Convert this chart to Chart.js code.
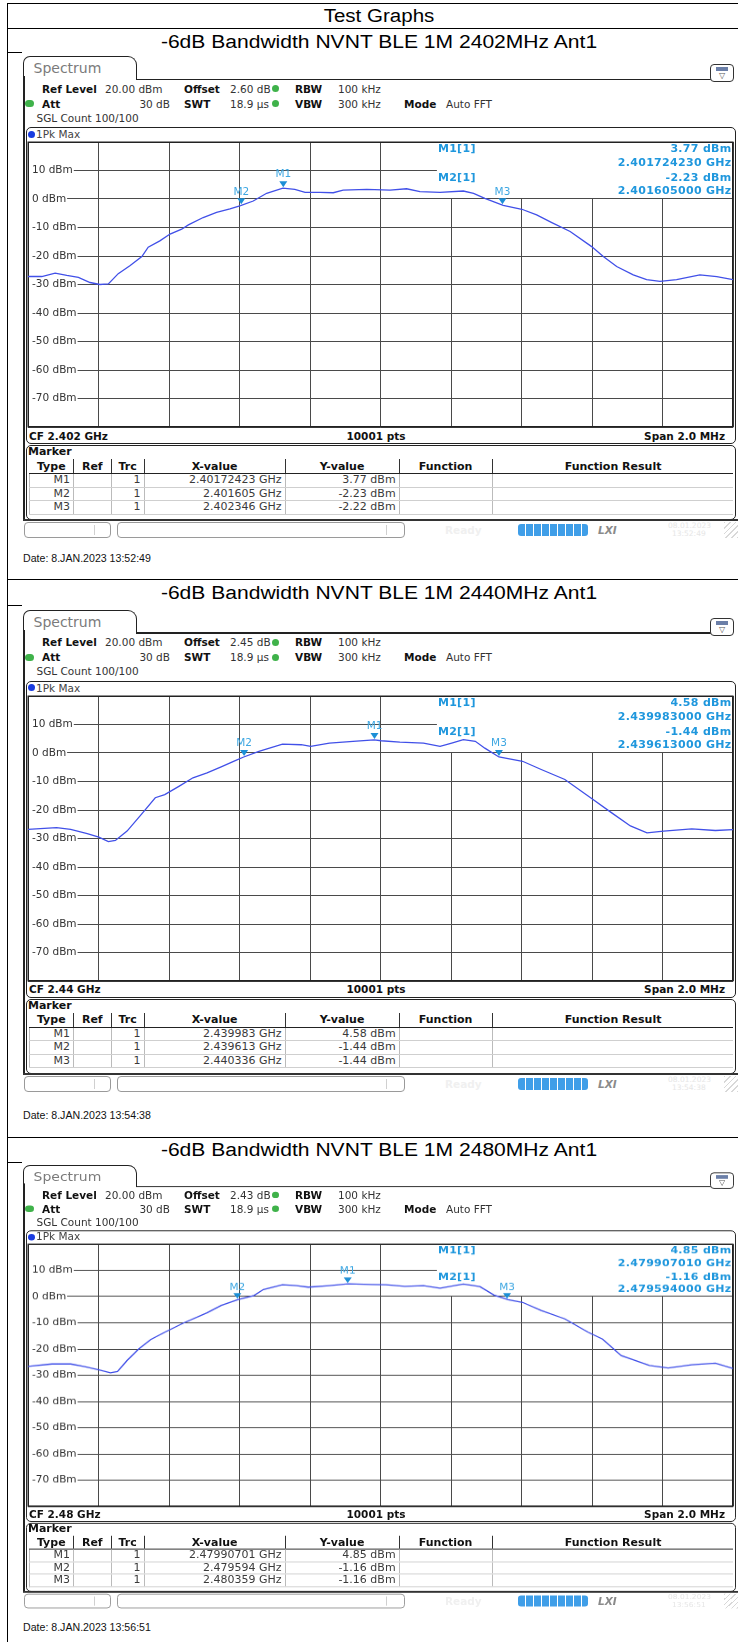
<!DOCTYPE html>
<html>
<head>
<meta charset="utf-8">
<script src="https://cdn.jsdelivr.net/npm/chart.js@4.4.1/dist/chart.umd.min.js"></script>
<style>
body { margin: 0; background: #fff; overflow: hidden; }
#page { position: relative; width: 738px; height: 1642px; overflow: hidden; background: #fff; font-family: "DejaVu Sans", sans-serif; }
.abs { position: absolute; }
.t { position: absolute; white-space: nowrap; line-height: 12px; font-size: 10.5px; color: #333; }
.b { font-weight: bold; color: #111; }
.word { position: absolute; white-space: nowrap; font-family: "Liberation Sans", Arial, sans-serif; color: #000; }
.shot { position: absolute; left: 0; width: 738px; height: 490px; transform-origin: 0 0; }
.box { position: absolute; border: 1.5px solid #222; border-radius: 5px; box-sizing: border-box; background: #fff; }
table.mk { position: absolute; left: 29px; top: 403px; width: 704px; border-collapse: collapse; table-layout: fixed; font-size: 11px; color: #3a3a3a; }
table.mk th { height: 14px; padding: 0; font-weight: bold; color: #111; border-left: 1px solid #333; border-bottom: 1.5px solid #222; line-height: 13px; }
table.mk th:first-child { border-left: none; }
table.mk td { height: 12.5px; padding: 0 3px 0 0; text-align: right; border-left: 1px solid #bbb; border-bottom: 1px solid #cfcfcf; line-height: 12px; }
</style>
</head>
<body>
<div id="page"></div>
<script>
// centre frequencies and analyser settings
const cfGHz = [2.402, 2.44, 2.48];
const offsetDb = ["2.60", "2.45", "2.43"];
const dates = ["13:52:49", "13:54:38", "13:56:51"];
const titles = [
    "-6dB Bandwidth NVNT BLE 1M 2402MHz Ant1",
    "-6dB Bandwidth NVNT BLE 1M 2440MHz Ant1",
    "-6dB Bandwidth NVNT BLE 1M 2480MHz Ant1"
];

// trace readings: frequency offset from CF (MHz) and level (dBm)
const freq2402 = [-1.000, -0.961, -0.923, -0.890, -0.857, -0.824, -0.796, -0.772, -0.744, -0.711, -0.677, -0.659, -0.626, -0.597, -0.564, -0.545, -0.503, -0.465, -0.427, -0.397, -0.361, -0.323, -0.277, -0.243, -0.214, -0.172, -0.134, -0.106, -0.039, 0.027, 0.074, 0.112, 0.169, 0.235, 0.264, 0.296, 0.348, 0.401, 0.443, 0.486, 0.538, 0.599, 0.632, 0.670, 0.717, 0.755, 0.793, 0.840, 0.906, 0.954, 1.000];
const level2402 = [-27.2, -27.2, -26.0, -26.8, -27.5, -29.3, -30.0, -29.8, -26.2, -23.4, -20.2, -16.9, -14.7, -12.3, -10.6, -9.1, -6.5, -4.7, -3.5, -2.3, -0.7, 2.0, 3.8, 3.4, 2.3, 2.3, 2.2, 3.1, 3.4, 3.1, 3.6, 2.6, 2.3, 2.8, 2.0, 0.2, -2.2, -3.6, -5.6, -8.3, -11.4, -16.7, -20.2, -23.7, -26.6, -28.3, -28.9, -28.3, -26.6, -27.2, -28.3];

const freq2440 = [-1.000, -0.919, -0.879, -0.832, -0.799, -0.772, -0.752, -0.719, -0.679, -0.639, -0.612, -0.572, -0.532, -0.492, -0.452, -0.412, -0.388, -0.345, -0.278, -0.225, -0.198, -0.145, -0.078, -0.018, 0.002, 0.055, 0.122, 0.169, 0.202, 0.235, 0.269, 0.296, 0.336, 0.403, 0.456, 0.523, 0.596, 0.656, 0.709, 0.756, 0.803, 0.883, 0.950, 1.000];
const level2440 = [-26.8, -26.2, -26.8, -28.3, -29.5, -31.1, -30.7, -27.4, -21.6, -15.7, -14.6, -11.7, -8.7, -7.0, -4.9, -2.7, -1.4, 0.6, 3.1, 2.9, 2.3, 3.5, 4.1, 4.6, 4.3, 3.8, 3.5, 2.3, 3.5, 4.7, 4.1, 1.7, -1.4, -2.9, -5.8, -9.3, -15.7, -21.0, -25.6, -28.0, -27.4, -26.6, -27.2, -26.9];

const freq2480 = [-1.000, -0.932, -0.879, -0.839, -0.799, -0.766, -0.746, -0.719, -0.686, -0.652, -0.612, -0.559, -0.492, -0.452, -0.405, -0.359, -0.332, -0.278, -0.238, -0.205, -0.145, -0.092, -0.025, 0.015, 0.069, 0.122, 0.169, 0.235, 0.282, 0.322, 0.362, 0.403, 0.456, 0.523, 0.589, 0.630, 0.683, 0.763, 0.816, 0.883, 0.950, 1.000];
const level2480 = [-26.6, -25.7, -25.7, -26.7, -27.9, -29.1, -28.6, -24.4, -20.0, -16.4, -13.6, -10.1, -6.2, -3.4, -1.2, 0.4, 2.7, 4.5, 4.2, 3.6, 4.2, 4.85, 4.6, 4.5, 3.9, 4.2, 3.2, 4.8, 3.8, 0.6, -1.2, -2.2, -5.3, -8.5, -13.6, -16.2, -22.5, -26.3, -27.2, -26.0, -25.4, -27.4];

// markers M1..M3: frequency (GHz) and level (dBm)
const mk2402X = [2.40172423, 2.401605, 2.402346];
const mk2402Y = [3.77, -2.23, -2.22];
const mk2440X = [2.439983, 2.439613, 2.440336];
const mk2440Y = [4.58, -1.44, -1.44];
const mk2480X = [2.47990701, 2.479594, 2.480359];
const mk2480Y = [4.85, -1.16, -1.16];

const panels = [
    { top: 56, sy: 1, titleY: 41.5, dateY: 559, freq: freq2402, lvl: level2402, mx: mk2402X, my: mk2402Y },
    { top: 609.5, sy: 1, titleY: 593, dateY: 1115.5, freq: freq2440, lvl: level2440, mx: mk2440X, my: mk2440Y },
    { top: 1165, sy: 0.92, titleY: 1149.5, dateY: 1627.5, freq: freq2480, lvl: level2480, mx: mk2480X, my: mk2480Y }
];

const page = document.getElementById("page");

function el(parent, cls, css, text) {
    const d = document.createElement("div");
    if (cls) d.className = cls;
    Object.assign(d.style, css);
    if (text !== undefined) d.textContent = text;
    parent.appendChild(d);
    return d;
}

function txt(parent, text, x, yc, opt = {}) {
    const d = el(parent, "t" + (opt.bold ? " b" : ""), { left: x + "px", top: (yc - 6) + "px" }, text);
    if (opt.align === "right") d.style.transform = "translateX(-100%)";
    if (opt.align === "center") d.style.transform = "translateX(-50%)";
    if (opt.size) d.style.fontSize = opt.size + "px";
    if (opt.color) d.style.color = opt.color;
    if (opt.italic) d.style.fontStyle = "italic";
    return d;
}

function hline(x, y, w) {
    el(page, "abs", { left: x + "px", top: y + "px", width: w + "px", height: "1px", background: "#000" });
}

function wordText(text, yc, size, stretch) {
    return el(page, "word", { left: "379px", top: (yc - 11) + "px", fontSize: size + "px", lineHeight: "22px",
        transform: "translateX(-50%) scaleX(" + stretch + ")" }, text);
}

function dot(parent, cx, cy, color, w = 7) {
    el(parent, "abs", { left: (cx - w / 2) + "px", top: (cy - 3.5) + "px", width: w + "px", height: "7px",
        borderRadius: "4px", background: color });
}

// document table lines
el(page, "abs", { left: "7px", top: "3px", width: "1px", height: "1639px", background: "#000" });
hline(7, 3, 731);
hline(7, 28, 731);
hline(7, 52, 15);
hline(7, 579, 731);
hline(7, 605, 15);
hline(7, 1137, 731);
hline(7, 1162, 15);

wordText("Test Graphs", 15.5, 18, 1.14);

function markerPlugin(p, cf) {
    const offs = p.mx.map(f => (f - cf) * 1000);
    return {
        id: "markers",
        beforeDatasetsDraw(chart) {
            const { ctx, chartArea: a, scales: { x, y } } = chart;
            ctx.save();
            ctx.fillStyle = "#fff";
            const x0 = x.getPixelForValue(0.16);
            const yb = y.getPixelForValue(0) - 1;
            ctx.fillRect(x0, a.top + 1, a.right - 1 - x0, yb - a.top - 1);
            ctx.strokeStyle = "#222";
            ctx.lineWidth = 1.5;
            ctx.strokeRect(a.left + 0.25, a.top + 0.25, a.right - a.left - 0.5, a.bottom - a.top - 0.5);
            ctx.restore();
        },
        afterDatasetsDraw(chart) {
            const { ctx, chartArea: a, scales: { x, y } } = chart;
            ctx.save();
            offs.forEach((f, i) => {
                const px = x.getPixelForValue(f);
                const py = y.getPixelForValue(p.my[i]);
                ctx.fillStyle = "#1c8fd6";
                ctx.beginPath();
                ctx.moveTo(px - 4, py - 7);
                ctx.lineTo(px + 4, py - 7);
                ctx.lineTo(px, py - 1);
                ctx.closePath();
                ctx.fill();
                ctx.fillStyle = "#3ea7e2";
                ctx.font = "10.5px 'DejaVu Sans'";
                ctx.textAlign = "center";
                ctx.textBaseline = "middle";
                ctx.fillText("M" + (i + 1), px, py - 13.5);
            });
            // marker readout
            const x0 = x.getPixelForValue(0.16) + 1;
            const xr = a.right - 1.5;
            ctx.fillStyle = "#1f97dd";
            ctx.font = "bold 11px 'DejaVu Sans'";
            ctx.letterSpacing = "0.3px";
            ctx.textBaseline = "middle";
            const rows = [
                ["M1[1]", p.my[0].toFixed(2) + " dBm"],
                ["", p.mx[0].toFixed(9) + " GHz"],
                ["M2[1]", p.my[1].toFixed(2) + " dBm"],
                ["", p.mx[1].toFixed(9) + " GHz"]
            ];
            const dy = [7, 21, 36, 49.5];
            rows.forEach((r, i) => {
                ctx.textAlign = "left";
                if (r[0]) ctx.fillText(r[0], x0, a.top + dy[i]);
                ctx.textAlign = "right";
                ctx.fillText(r[1], xr, a.top + dy[i]);
            });
            ctx.restore();
        }
    };
}

function drawTrace(shot, p, cf) {
    const cv = document.createElement("canvas");
    cv.width = 707;
    cv.height = 287;
    cv.style.cssText = "position:absolute;left:27px;top:85px";
    shot.appendChild(cv);
    const gridOpts = { color: "#4a4a4a", lineWidth: 1, drawTicks: false };
    const noPad = s => { s.paddingTop = 0; s.paddingBottom = 0; s.paddingLeft = 0; s.paddingRight = 0; };
    new Chart(cv.getContext("2d"), {
        type: "line",
        data: {
            datasets: [{
                data: p.freq.map((f, i) => ({ x: f, y: p.lvl[i] })),
                borderColor: "#4150e8",
                borderWidth: 1.3,
                pointRadius: 0,
                tension: 0
            }]
        },
        options: {
            responsive: false,
            animation: false,
            events: [],
            layout: { padding: { left: 1, right: 1, top: 1, bottom: 1 } },
            plugins: { legend: { display: false }, tooltip: { enabled: false } },
            scales: {
                x: {
                    type: "linear", min: -1, max: 1,
                    ticks: { display: false, stepSize: 0.2 },
                    grid: gridOpts,
                    border: { display: false },
                    afterFit: s => { s.height = 0; noPad(s); }
                },
                y: {
                    min: -80, max: 20,
                    ticks: {
                        stepSize: 10, mirror: true, padding: 4,
                        font: { family: "DejaVu Sans", size: 10.5 },
                        color: "#333",
                        showLabelBackdrop: true,
                        backdropColor: c => (c.tick && c.tick.value < 20 && c.tick.value > -80) ? "#fff" : "rgba(0,0,0,0)",
                        backdropPadding: { left: 3, right: 1, top: 1, bottom: 1 },
                        callback: v => (v < 20 && v > -80) ? v + " dBm" : ""
                    },
                    grid: gridOpts,
                    border: { display: false },
                    afterFit: s => { s.width = 0; noPad(s); }
                }
            }
        },
        plugins: [markerPlugin(p, cf)]
    });
}

function markerTable(shot, p) {
    const colW = [44, 37.6, 33, 141, 114, 93, 241.4];
    const heads = ["Type", "Ref", "Trc", "X-value", "Y-value", "Function", "Function Result"];
    const tb = document.createElement("table");
    tb.className = "mk";
    const cg = document.createElement("colgroup");
    colW.forEach(w => { const c = document.createElement("col"); c.style.width = w + "px"; cg.appendChild(c); });
    tb.appendChild(cg);
    const hr = tb.insertRow();
    heads.forEach(h => { const th = document.createElement("th"); th.textContent = h; hr.appendChild(th); });
    p.mx.forEach((f, i) => {
        const r = tb.insertRow();
        const cells = ["M" + (i + 1), "", "1", f + " GHz", p.my[i].toFixed(2) + " dBm", "", ""];
        cells.forEach(c => { const td = r.insertCell(); td.textContent = c; });
    });
    shot.appendChild(tb);
}

function statusBar(shot, time) {
    const y = 466;
    el(shot, "abs", { left: "24px", top: y + "px", width: "87px", height: "16px", border: "1px solid #9a9a9a", borderRadius: "4px", boxSizing: "border-box" });
    el(shot, "abs", { left: "94px", top: (y + 3) + "px", width: "1px", height: "10px", background: "#d0d0d0" });
    el(shot, "abs", { left: "117px", top: y + "px", width: "288px", height: "16px", border: "1px solid #9a9a9a", borderRadius: "4px", boxSizing: "border-box" });
    el(shot, "abs", { left: "386px", top: (y + 3) + "px", width: "1px", height: "10px", background: "#d0d0d0" });
    txt(shot, "Ready", 445, y + 8, { bold: true, color: "#f0f0f0" });
    el(shot, "abs", { left: "518px", top: (y + 2) + "px", width: "70px", height: "12px", borderRadius: "3px",
        background: "repeating-linear-gradient(90deg,#3f9ee8 0 7px,#fff 7px 8px)" });
    txt(shot, "LXI", 598, y + 8, { bold: true, italic: true, color: "#8a8a8a" });
    txt(shot, "08.01.2023", 668, y + 4, { size: 7.5, color: "#e6e6e6" });
    txt(shot, time, 672, y + 12, { size: 7.5, color: "#e6e6e6" });
    el(shot, "abs", { left: "724px", top: y + "px", width: "14px", height: "16px",
        background: "repeating-linear-gradient(135deg,#d8d8d8 0 1px,transparent 1px 4px)" });
}

panels.forEach((p, k) => {
    const cf = cfGHz[k];
    wordText(titles[k], p.titleY, 18, 1.17);
    const shot = el(page, "shot", { top: p.top + "px", transform: "scaleY(" + p.sy + ")" });

    // tab and frame
    el(shot, "abs", { left: "23px", top: "0px", width: "114px", height: "24px", border: "1.5px solid #222",
        borderBottom: "none", borderRadius: "7px 9px 0 0", boxSizing: "border-box" });
    el(shot, "abs", { left: "23px", top: "20px", width: "1.5px", height: "444px", background: "#222" });
    txt(shot, "Spectrum", 33.5, 12, { size: 14, color: "#7b7b7b" });
    el(shot, "abs", { left: "136px", top: "22.5px", width: "575px", height: "1.5px", background: "#222" });
    el(shot, "abs", { left: "710px", top: "8px", width: "24px", height: "18px", border: "1.5px solid #333",
        borderRadius: "4px", boxSizing: "border-box", background: "#fff" });
    el(shot, "abs", { left: "716px", top: "11px", width: "12px", height: "4px", background: "#6b7fa8" });
    txt(shot, "\u25BD", 722, 20, { size: 8, color: "#555", align: "center" });

    // settings
    txt(shot, "Ref Level", 42, 32.5, { bold: true });
    txt(shot, "20.00 dBm", 105, 32.5);
    txt(shot, "Offset", 184, 32.5, { bold: true });
    txt(shot, offsetDb[k] + " dB", 230, 32.5);
    dot(shot, 275, 32.5, "#3fb24a");
    txt(shot, "RBW", 295, 32.5, { bold: true });
    txt(shot, "100 kHz", 338, 32.5);
    dot(shot, 29, 47.5, "#3fb24a", 9);
    txt(shot, "Att", 42, 47.5, { bold: true });
    txt(shot, "30 dB", 170, 47.5, { align: "right" });
    txt(shot, "SWT", 184, 47.5, { bold: true });
    txt(shot, "18.9 \u00B5s", 230, 47.5);
    dot(shot, 275, 47.5, "#3fb24a");
    txt(shot, "VBW", 295, 47.5, { bold: true });
    txt(shot, "300 kHz", 338, 47.5);
    txt(shot, "Mode", 404, 47.5, { bold: true });
    txt(shot, "Auto FFT", 446, 47.5);
    txt(shot, "SGL Count 100/100", 36.5, 61.5);

    // trace window
    el(shot, "box", { left: "25.5px", top: "71px", width: "710px", height: "317px" });
    dot(shot, 31.5, 78, "#1a3ce0");
    txt(shot, "1Pk Max", 36, 78, { color: "#444" });
    drawTrace(shot, p, cf);
    txt(shot, "CF " + cf + " GHz", 29, 379.5, { bold: true });
    txt(shot, "10001 pts", 376, 379.5, { bold: true, align: "center" });
    txt(shot, "Span 2.0 MHz", 725, 379.5, { bold: true, align: "right" });

    // marker table
    el(shot, "box", { left: "25.5px", top: "389px", width: "710px", height: "75px" });
    txt(shot, "Marker", 28, 396, { bold: true, size: 11 });
    markerTable(shot, p);
    el(shot, "abs", { left: "23px", top: "463px", width: "715px", height: "2px", background: "#333" });
    statusBar(shot, dates[k]);

    el(page, "word", { left: "23px", top: (p.dateY - 6) + "px", fontSize: "10px", lineHeight: "12px", color: "#111",
        transform: "scaleX(1.06)", transformOrigin: "0 0" }, "Date: 8.JAN.2023  " + dates[k]);
});
</script>
</body>
</html>
